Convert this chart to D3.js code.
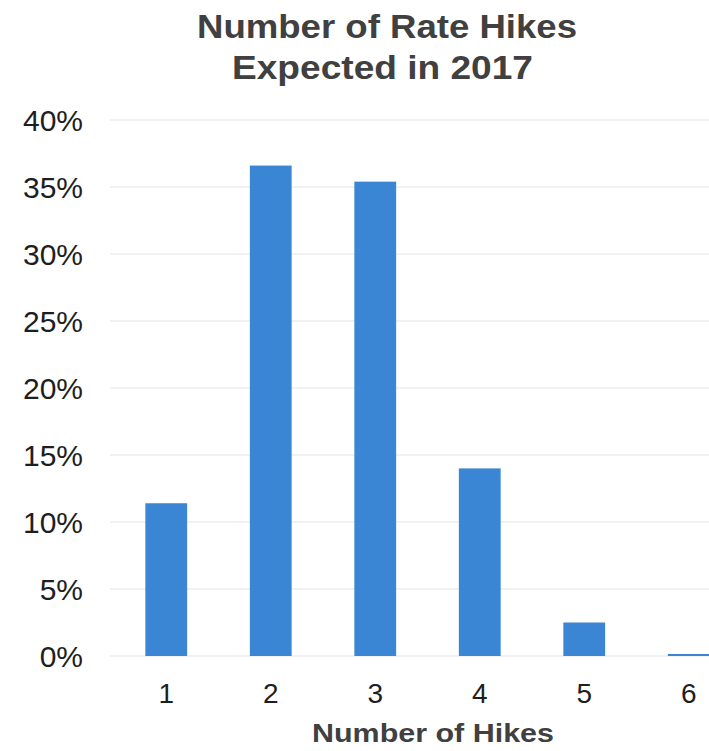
<!DOCTYPE html>
<html>
<head>
<meta charset="utf-8">
<script src="https://cdn.jsdelivr.net/npm/d3@7"></script>
<style>
  html, body { margin: 0; padding: 0; background: #ffffff; }
  svg { display: block; font-family: "Liberation Sans", Arial, sans-serif; }
</style>
</head>
<body>
<svg id="chart" width="709" height="751"></svg>
<script>
// Survey distribution: how many rate hikes respondents expect in 2017
const hikes = ["1", "2", "3", "4", "5", "6"];
const shares = [0.114, 0.366, 0.354, 0.140, 0.025, 0.0015];
const yTicks = [0, 0.05, 0.10, 0.15, 0.20, 0.25, 0.30, 0.35, 0.40];
const titleLines = ["Number of Rate Hikes", "Expected in 2017"];
const xTitle = "Number of Hikes";

const svg = d3.select("#chart");
const W = 709, H = 751;

svg.append("rect").attr("width", W).attr("height", H).attr("fill", "#ffffff");

const x = d3.scaleBand()
  .domain(hikes)
  .range([114, 741])
  .paddingInner(0.6)
  .paddingOuter(0.3);

const y = d3.scaleLinear()
  .domain([0, 0.40])
  .range([656, 120]);

// Horizontal gridlines
svg.append("g")
  .selectAll("line")
  .data(yTicks)
  .join("line")
  .attr("x1", 110)
  .attr("x2", W)
  .attr("y1", d => y(d))
  .attr("y2", d => y(d))
  .attr("stroke", "#e4e4e4")
  .attr("stroke-width", 1.2);

// Y axis labels
const yAxis = d3.axisLeft(y)
  .tickValues(yTicks)
  .tickFormat(d3.format(".0%"))
  .tickSize(0)
  .tickPadding(0);

const gy = svg.append("g")
  .attr("transform", "translate(83,0)")
  .call(yAxis);
gy.select(".domain").remove();
gy.selectAll("text")
  .attr("font-family", "'Liberation Sans', Arial, sans-serif")
  .attr("font-size", 30)
  .attr("fill", "#1e1e1e")
  .attr("dy", "0.36em");

// Bars
svg.append("g")
  .selectAll("rect")
  .data(hikes.map((h, i) => ({ h, v: shares[i] })))
  .join("rect")
  .attr("x", d => x(d.h))
  .attr("width", x.bandwidth())
  .attr("y", d => y(d.v))
  .attr("height", d => Math.max(0, y(0) - y(d.v)))
  .attr("fill", "#3b86d4");

// X axis labels
const xAxis = d3.axisBottom(x).tickSize(0).tickPadding(0);
const gx = svg.append("g")
  .attr("transform", "translate(0,703)")
  .call(xAxis);
gx.select(".domain").remove();
gx.selectAll("text")
  .attr("font-family", "'Liberation Sans', Arial, sans-serif")
  .attr("font-size", 28)
  .attr("fill", "#1e1e1e")
  .attr("dy", 0)
  .attr("y", 0);

// Chart title (two lines)
const titleLayout = [
  { text: titleLines[0], cx: 387, base: 38, len: 380 },
  { text: titleLines[1], cx: 382.5, base: 79, len: 301 }
];
svg.append("g")
  .selectAll("text")
  .data(titleLayout)
  .join("text")
  .attr("x", d => d.cx - d.len / 2)
  .attr("y", d => d.base)
  .attr("textLength", d => d.len)
  .attr("lengthAdjust", "spacingAndGlyphs")
  .attr("font-size", 33)
  .attr("font-weight", "bold")
  .attr("fill", "#404040")
  .text(d => d.text);

// X axis title
svg.append("text")
  .attr("x", 312)
  .attr("y", 742)
  .attr("textLength", 242)
  .attr("lengthAdjust", "spacingAndGlyphs")
  .attr("font-size", 25)
  .attr("font-weight", "bold")
  .attr("fill", "#404040")
  .text(xTitle);
</script>
</body>
</html>
